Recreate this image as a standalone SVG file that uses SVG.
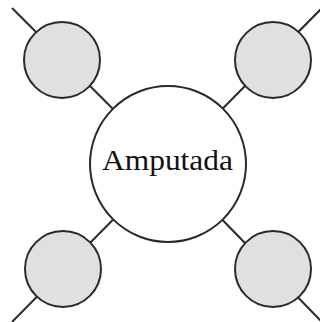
<svg xmlns="http://www.w3.org/2000/svg" width="320" height="322" viewBox="0 0 320 322">
<style>
.c{stroke:#2a2a2a;stroke-width:2;fill:#e0e0e0}
.m{stroke:#2a2a2a;stroke-width:2;fill:#ffffff}
.l{stroke:#2a2a2a;stroke-width:2;fill:none}
.t{font-family:"Liberation Serif","DejaVu Serif",serif;font-size:30px;fill:#111}
</style>
<rect width="320" height="322" fill="#ffffff"/>
<g id="connectors">
<line class="l" x1="168" y1="164" x2="12" y2="8"/>
<line class="l" x1="168" y1="164" x2="322" y2="8"/>
<line class="l" x1="168" y1="164" x2="12" y2="322"/>
<line class="l" x1="168" y1="164" x2="322" y2="322"/>
</g>
<g id="n-tl"><circle class="c" cx="62" cy="60" r="38"/></g>
<g id="n-tr"><circle class="c" cx="273" cy="60" r="38"/></g>
<g id="n-bl"><circle class="c" cx="63" cy="269" r="38"/></g>
<g id="n-br"><circle class="c" cx="273" cy="269" r="38"/></g>
<g id="n-main">
<circle class="m" cx="168" cy="164" r="78"/>
<text class="t" x="167.5" y="170" text-anchor="middle" textLength="131" lengthAdjust="spacingAndGlyphs">Amputada</text>
</g>
</svg>
